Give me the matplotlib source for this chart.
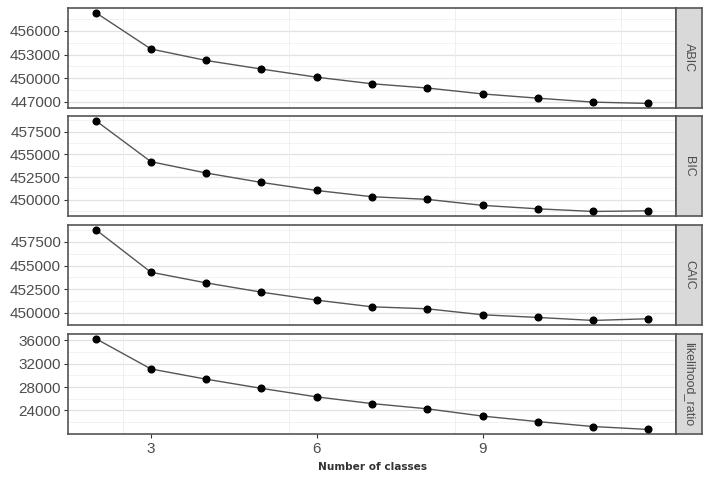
import matplotlib
matplotlib.use("Agg")
import matplotlib.pyplot as plt
import numpy as np

plt.rcParams['font.family'] = ['Liberation Sans', 'DejaVu Sans']

classes = [2, 3, 4, 5, 6, 7, 8, 9, 10, 11, 12]
abic = [458340, 453710, 452250, 451160, 450125, 449290, 448750, 448000, 447460, 446960, 446790]
bic = [458717, 454190, 452942, 451903, 451018, 450332, 450040, 449380, 449000, 448710, 448780]
caic = [458810, 454293, 453165, 452183, 451338, 450634, 450422, 449790, 449510, 449190, 449370]
lr = [36286, 31093, 29344, 27780, 26320, 25176, 24286, 23042, 22100, 21260, 20760]

panels = [
    ("ABIC", abic, [447000, 450000, 453000, 456000]),
    ("BIC", bic, [450000, 452500, 455000, 457500]),
    ("CAIC", caic, [450000, 452500, 455000, 457500]),
    ("likelihood_ratio", lr, [24000, 28000, 32000, 36000]),
]
xticks = [3, 6, 9]

W, H = 708, 478
fig = plt.figure(figsize=(W / 100, H / 100), dpi=100)

left, right = 68, 676
strip_w = 26
tops = [8, 116, 225, 334]
ph = 100

for i, (name, vals, yt) in enumerate(panels):
    top = tops[i]
    ax = fig.add_axes([left / W, 1 - (top + ph) / H, (right - left) / W, ph / H])
    lo, hi = min(vals), max(vals)
    pad = (hi - lo) * 0.05
    ax.set_ylim(lo - pad, hi + pad)
    ax.set_xlim(1.5, 12.5)
    step = yt[1] - yt[0]
    minor = [v + step / 2 for v in [yt[0] - step] + yt]
    for v in minor:
        ax.axhline(v, color="#f0f0f0", lw=0.6, zorder=0)
    for v in yt:
        ax.axhline(v, color="#e2e2e2", lw=0.9, zorder=0)
    for v in [2.5, 5.5, 8.5, 11.5]:
        ax.axvline(v, color="#ececec", lw=0.6, zorder=0)
    ax.plot(classes, vals, color="#555555", lw=1.0, zorder=2)
    ax.plot(classes, vals, "o", color="black", ms=4.8, zorder=3)
    ax.set_yticks(yt)
    ax.set_yticklabels([str(v) for v in yt])
    ax.tick_params(axis="y", length=3, color="#333333", labelsize=11,
                   labelcolor="#4d4d4d", pad=2)
    ax.set_xticks(xticks)
    if i == 3:
        ax.tick_params(axis="x", length=3, color="#333333", labelsize=11,
                       labelcolor="#4d4d4d", pad=3)
    else:
        ax.tick_params(axis="x", length=0, labelbottom=False)
    for s in ax.spines.values():
        s.set_color("#555555")
        s.set_linewidth(1.2)

    sax = fig.add_axes([right / W, 1 - (top + ph) / H, strip_w / W, ph / H])
    sax.set_facecolor("#d9d9d9")
    sax.set_xticks([])
    sax.set_yticks([])
    for s in sax.spines.values():
        s.set_color("#555555")
        s.set_linewidth(1.2)
    sax.text(0.5, 0.5, name, rotation=-90, ha="center", va="center",
             fontsize=9, color="#4d4d4d", transform=sax.transAxes)

fig.text(373 / W, 1 - 467 / H, "Number of classes", ha="center", va="center",
         fontsize=7.6, fontweight="bold", family="DejaVu Sans", color="#333333")

fig.savefig("out.png", dpi=100)
